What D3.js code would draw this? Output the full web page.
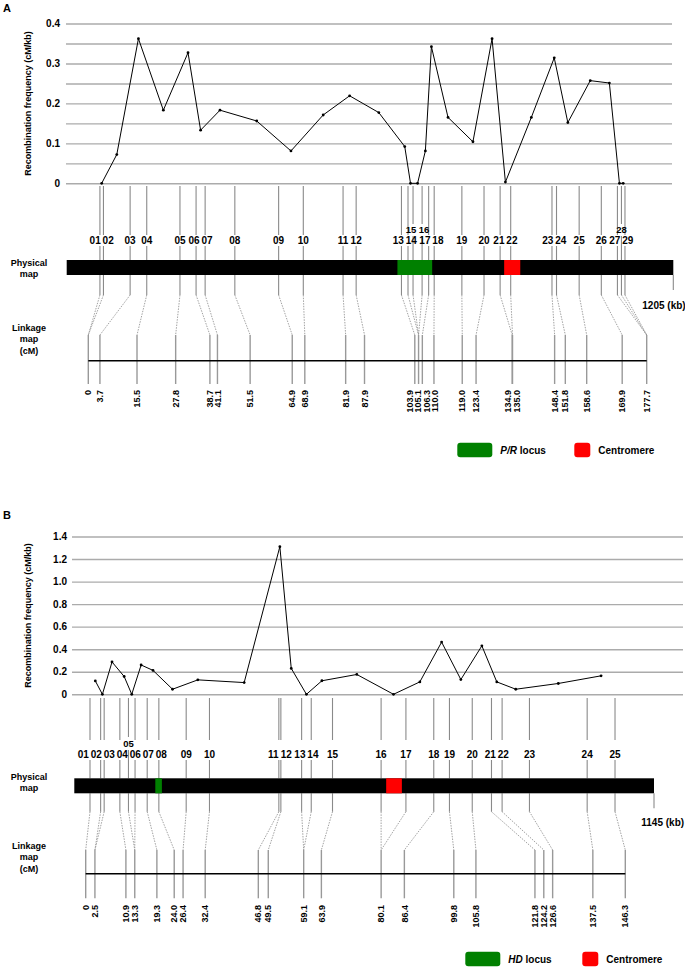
<!DOCTYPE html>
<html>
<head>
<meta charset="utf-8">
<script src="https://cdn.jsdelivr.net/npm/d3@7"></script>
<style>
body { margin: 0; background: #fff; }
text { font-family: "Liberation Sans", Arial, sans-serif; font-weight: bold; }
</style>
</head>
<body>
<svg id="chart" width="685" height="967"></svg>
<script>
// ---- panel A data ----
const markersA = ["01","02","03","04","05","06","07","08","09","10","11","12","13","14","15",
                  "16","17","18","19","20","21","22","23","24","25","26","27","28","29"];
const physKbA = [66, 73, 126, 159, 225, 257, 275, 334, 421, 470, 549, 575, 665, 678, 688,
                 706, 719, 730, 785, 829, 861, 882, 964, 973, 1018, 1062, 1094, 1102, 1109];
const linkCmA = [0, 0, 3.7, 15.5, 27.8, 38.7, 41.1, 51.5, 64.9, 68.9, 81.9, 87.9, 103.9, 105.1, 105.1,
                 105.1, 106.3, 110.0, 119.0, 123.4, 134.9, 135.0, 148.4, 151.8, 158.6, 169.9, 177.7, 177.7, 177.7];
const rateA = [0, 0.072, 0.362, 0.183, 0.327, 0.133, 0.183, 0.156, 0.081, 0.171, 0.219, 0.177, 0.092, 0,
               0, 0.081, 0.342, 0.165, 0.104, 0.362, 0.003, 0.165, 0.314, 0.152, 0.257, 0.251, 0, 0];
const lengthKbA = 1205;
const locusKbA = [657, 726];
const centromereKbA = [869, 901];
const gridA = [0, 0.05, 0.1, 0.15, 0.2, 0.25, 0.3, 0.35, 0.4];
const yTicksA = [0, 0.1, 0.2, 0.3, 0.4];
const yTickTextA = ["0", "0.1", "0.2", "0.3", "0.4"];
const raisedA = ["15", "16", "28"];

// ---- panel B data ----
const markersB = ["01","02","03","04","05","06","07","08","09","10","11","12","13",
                  "14","15","16","17","18","19","20","21","22","23","24","25"];
const physKbB = [31, 52, 59, 90, 107, 120, 144, 167, 221, 267, 404, 408, 449,
                 468, 510, 606, 655, 710, 741, 786, 824, 845, 899, 1013, 1068];
const linkCmB = [0, 2.5, 2.5, 10.9, 13.3, 13.3, 19.3, 24.0, 26.4, 32.4, 46.8, 49.5, 59.1,
                 59.1, 63.9, 80.1, 80.1, 86.4, 99.8, 105.8, 121.8, 124.2, 126.6, 137.5, 146.3];
const rateB = [0.119, 0, 0.287, 0.158, 0, 0.26, 0.212, 0.045, 0.128, 0.104, 1.31, 0.23,
               0, 0.12, 0.176, 0, 0.11, 0.463, 0.131, 0.43, 0.11, 0.045, 0.096, 0.164];
const lengthKbB = 1145;
const locusKbB = [160, 173];
const centromereKbB = [616, 647];
const gridB = [0, 0.2, 0.4, 0.6, 0.8, 1.0, 1.2, 1.4];
const yTicksB = [0, 0.2, 0.4, 0.6, 0.8, 1.0, 1.2, 1.4];
const yTickTextB = ["0", "0.2", "0.4", "0.6", "0.8", "1.0", "1.2", "1.4"];
const raisedB = ["05"];

const width = 685, height = 967;
const svg = d3.select("#chart");
svg.append("rect").attr("width", width).attr("height", height).attr("fill", "#fff");

const panels = [
  {
    letter: "A", markers: markersA, kb: physKbA, cm: linkCmA, rate: rateA, lengthKb: lengthKbA,
    locus: locusKbA, centromere: centromereKbA, locusName: "P/R",
    grid: gridA, yTicks: yTicksA, yTickText: yTickTextA, raised: raisedA,
    letterY: 12, plotTop: 23.5, plotBottom: 183.3, gridX0: 66, gridX1: 672, tickPad: 6,
    barX0: 66.7, barX1: 673.3, barY: 260, barH: 15,
    lineTop: 186, rowBase: [243.5, 232.5], gapTop: [235, 224], gapBottom: [246, 236],
    lowSolid: 295, dashEnd: 335, linkY: 360.7, tickEnd: 384, labelTop: 390,
    linkX0: 88.3, linkX1: 646.7,
    physLabelY: 265.5, linkLabelY: 330.5,
    kbLabelX: 664, kbLabelY: 309, legendX: 457.3, legendY: 442.7
  },
  {
    letter: "B", markers: markersB, kb: physKbB, cm: linkCmB, rate: rateB, lengthKb: lengthKbB,
    locus: locusKbB, centromere: centromereKbB, locusName: "HD",
    grid: gridB, yTicks: yTicksB, yTickText: yTickTextB, raised: raisedB,
    letterY: 519, plotTop: 536.5, plotBottom: 694.3, gridX0: 72, gridX1: 683, tickPad: 5,
    barX0: 74.3, barX1: 654, barY: 778.3, barH: 15,
    lineTop: 698, rowBase: [757.5, 746.5], gapTop: [740, 737], gapBottom: [760, 750],
    lowSolid: 811.7, dashEnd: 850, linkY: 873.7, tickEnd: 898.3, labelTop: 905,
    linkX0: 85.7, linkX1: 625.3,
    physLabelY: 779.5, linkLabelY: 848.5,
    kbLabelX: 662.7, kbLabelY: 826, legendX: 465.3, legendY: 951.7
  }
];

// push overlapping labels apart along x
function spreadLabels(items, minGap) {
  items.sort((a, b) => a.x - b.x);
  for (let k = 0; k < 200; k++) {
    for (let i = 1; i < items.length; i++) {
      const d = items[i].lx - items[i - 1].lx;
      if (d < minGap) {
        const s = (minGap - d) / 2;
        items[i].lx += s;
        items[i - 1].lx -= s;
      }
    }
  }
  return items;
}

function drawPanel(p) {
  const g = svg.append("g");
  const x = d3.scaleLinear().domain([0, p.lengthKb]).range([p.barX0, p.barX1]);
  const xl = d3.scaleLinear().domain([0, d3.max(p.cm)]).range([p.linkX0, p.linkX1]);
  const y = d3.scaleLinear().domain([0, d3.max(p.grid)]).range([p.plotBottom, p.plotTop]);

  g.append("text").attr("x", 3).attr("y", p.letterY).attr("font-size", 11).text(p.letter);

  // y axis with gridlines
  const yAxis = d3.axisLeft(y)
    .tickValues(p.grid)
    .tickSize(-(p.gridX1 - p.gridX0))
    .tickPadding(p.tickPad)
    .tickFormat(v => {
      const i = p.yTicks.findIndex(t => Math.abs(t - v) < 1e-9);
      return i < 0 ? "" : p.yTickText[i];
    });
  const ax = g.append("g").attr("transform", `translate(${p.gridX0},0)`).call(yAxis);
  ax.select(".domain").remove();
  ax.selectAll("line").attr("stroke", "#ababab").attr("stroke-width", 1.4);
  ax.selectAll("text").attr("fill", "#000").attr("font-size", 10)
    .style("font-family", "'Liberation Sans', Arial, sans-serif");

  g.append("text")
    .attr("transform", `translate(31,${(p.plotTop + p.plotBottom) / 2}) rotate(-90)`)
    .attr("text-anchor", "middle").attr("font-size", 9)
    .text("Recombination frequency (cM/kb)");

  // marker positions and labels
  const items = p.markers.map((m, i) => ({
    name: m, x: x(p.kb[i]), lx: x(p.kb[i]), cm: p.cm[i],
    row: p.raised.includes(m) ? 1 : 0
  }));
  [0, 1].forEach(r => spreadLabels(items.filter(d => d.row === r), 13));
  items.sort((a, b) => a.x - b.x);

  const lineColor = "#8a8a8a";
  const ml = g.append("g").attr("stroke", lineColor).attr("stroke-width", 1.1);
  items.forEach(d => {
    ml.append("line").attr("x1", d.x).attr("x2", d.x).attr("y1", p.lineTop).attr("y2", p.gapTop[d.row]);
    ml.append("line").attr("x1", d.x).attr("x2", d.x).attr("y1", p.gapBottom[d.row]).attr("y2", p.barY);
    ml.append("line").attr("x1", d.x).attr("x2", d.x).attr("y1", p.barY + p.barH).attr("y2", p.lowSolid);
    ml.append("line").attr("x1", d.x).attr("x2", xl(d.cm)).attr("y1", p.lowSolid).attr("y2", p.dashEnd)
      .attr("stroke-dasharray", "1.5,1.2").attr("stroke-width", 0.8);
  });

  g.selectAll(".mlabel").data(items).join("text")
    .attr("class", "mlabel")
    .attr("x", d => d.lx).attr("y", d => p.rowBase[d.row])
    .attr("text-anchor", "middle").attr("font-size", d => d.row ? 9.5 : 10)
    .text(d => d.name);

  // recombination line, one point per interval between markers
  const pts = p.rate.map((r, i) => [(x(p.kb[i]) + x(p.kb[i + 1])) / 2, y(r)]);
  g.append("path").attr("d", d3.line()(pts)).attr("fill", "none").attr("stroke", "#000").attr("stroke-width", 1);
  g.selectAll(".pt").data(pts).join("circle").attr("class", "pt")
    .attr("cx", d => d[0]).attr("cy", d => d[1]).attr("r", 1.4).attr("fill", "#000");

  // physical map bar
  g.append("rect").attr("x", p.barX0).attr("y", p.barY).attr("width", p.barX1 - p.barX0).attr("height", p.barH).attr("fill", "#000");
  g.append("rect").attr("x", x(p.locus[0])).attr("y", p.barY).attr("width", x(p.locus[1]) - x(p.locus[0])).attr("height", p.barH).attr("fill", "#008000");
  g.append("rect").attr("x", x(p.centromere[0])).attr("y", p.barY).attr("width", x(p.centromere[1]) - x(p.centromere[0])).attr("height", p.barH).attr("fill", "#ff0000");
  g.append("line").attr("x1", p.barX1).attr("x2", p.barX1).attr("y1", p.barY + p.barH).attr("y2", p.barY + p.barH + 15)
    .attr("stroke", lineColor).attr("stroke-width", 1.1);
  g.append("text").attr("x", p.kbLabelX).attr("y", p.kbLabelY).attr("text-anchor", "middle").attr("font-size", 10)
    .text(p.lengthKb + " (kb)");

  // linkage map
  const cms = Array.from(new Set(p.cm));
  g.selectAll(".ltick").data(cms).join("line").attr("class", "ltick")
    .attr("x1", d => xl(d)).attr("x2", d => xl(d)).attr("y1", p.dashEnd).attr("y2", p.tickEnd)
    .attr("stroke", "#999").attr("stroke-width", 1.4);
  g.append("line").attr("x1", xl(0)).attr("x2", xl(d3.max(p.cm))).attr("y1", p.linkY).attr("y2", p.linkY)
    .attr("stroke", "#000").attr("stroke-width", 1.5);
  const cmLabels = spreadLabels(cms.map(c => ({ cm: c, x: xl(c), lx: xl(c) })), 8.4);
  g.selectAll(".llabel").data(cmLabels).join("text").attr("class", "llabel")
    .attr("transform", d => `translate(${d.lx},${p.labelTop}) rotate(-90)`)
    .attr("text-anchor", "end").attr("dy", "0.35em").attr("font-size", 9)
    .text(d => d.cm === 0 ? "0" : d.cm.toFixed(1));

  // side labels
  const side = (lines, y0) => lines.forEach((t, i) =>
    g.append("text").attr("x", 29).attr("y", y0 + i * 11.5).attr("text-anchor", "middle").attr("font-size", 9).text(t));
  side(["Physical", "map"], p.physLabelY);
  side(["Linkage", "map", "(cM)"], p.linkLabelY);

  // legend
  const lg = g.append("g").attr("transform", `translate(${p.legendX},${p.legendY})`);
  lg.append("rect").attr("width", 35).attr("height", 14.6).attr("rx", 3).attr("fill", "#008000");
  const lt = lg.append("text").attr("x", 43).attr("y", 11).attr("font-size", 10);
  lt.append("tspan").attr("font-style", "italic").text(p.locusName);
  lt.append("tspan").text(" locus");
  lg.append("rect").attr("x", 117).attr("width", 16).attr("height", 14.6).attr("rx", 3).attr("fill", "#ff0000");
  lg.append("text").attr("x", 141).attr("y", 11).attr("font-size", 10).text("Centromere");
}

panels.forEach(drawPanel);
</script>
</body>
</html>
